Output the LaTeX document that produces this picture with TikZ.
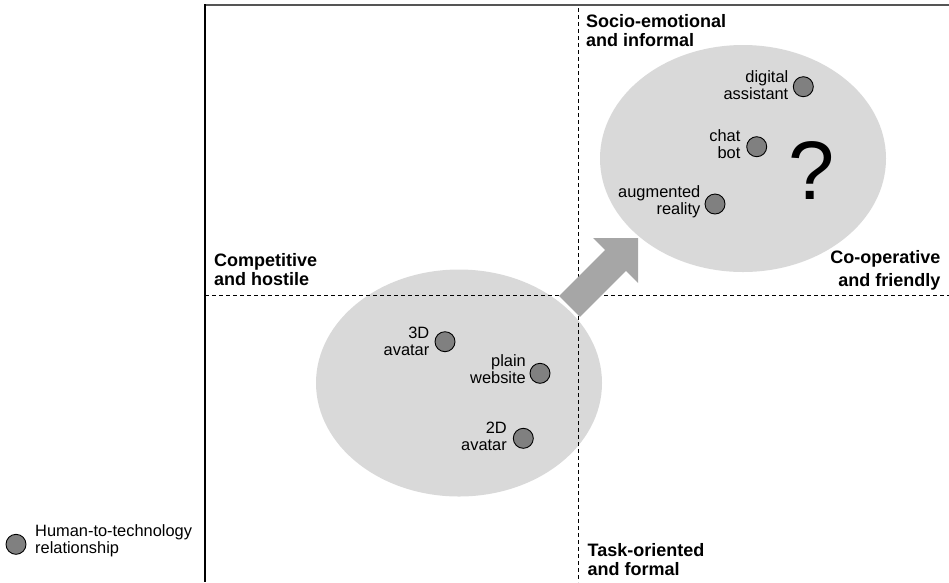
\documentclass[tikz,border=0pt]{standalone}
\usepackage{fontspec}
\setmainfont{Liberation Sans}
\usetikzlibrary{shapes.geometric}
\definecolor{cloudgray}{HTML}{D9D9D9}
\definecolor{dotgray}{HTML}{808080}
\definecolor{arrowgray}{HTML}{A6A6A6}
\definecolor{framegray}{HTML}{555555}
\tikzset{
  zone/.style={ellipse, fill=cloudgray, draw=none, minimum width=286pt, minimum height=227pt, inner sep=0pt},
  rel/.style={circle, draw=black, line width=0.9pt, fill=dotgray, minimum size=20pt, inner sep=0pt},
  lbl/.style={font=\fontsize{16.4}{17}\selectfont, align=right, inner sep=0pt, anchor=east},
  quadlbl/.style={font=\fontsize{18}{19}\selectfont\bfseries, inner sep=0pt},
  axisdash/.style={line width=0.9pt, dash pattern=on 4pt off 3pt},
}
\begin{document}
\begin{tikzpicture}[x=1pt,y=-1pt]
\useasboundingbox (0,0) rectangle (949,582);
% clouds
\node[zone] (upper) at (743,158.5) {};
\node[zone] (lower) at (459,383) {};
% frame
\coordinate (tl) at (205,4.2);
\coordinate (tr) at (949,5);
\coordinate (bl) at (205,582);
\draw[framegray, line width=1.8pt] (205,5) -- (tr);
\draw[black, line width=1.3pt] (tl) -- (bl);
% axes
\coordinate (vtop) at (578,8);
\coordinate (vbot) at (578,582);
\coordinate (hleft) at (205,295);
\coordinate (hright) at (949,295);
\draw[axisdash] (vtop) -- (vbot);
\draw[axisdash] (hleft) -- (hright);
% block arrow
\fill[arrowgray] (559.1,296.1) -- (605.1,250.1) -- (593,238) -- (638,238)
  -- (638,283) -- (625.9,270.9) -- (579.9,316.9) -- cycle;
% relationship dots
\node[rel] (da) at (803.3,86.7) {};
\node[rel] (cb) at (756.7,146.7) {};
\node[rel] (ar) at (715,204) {};
\node[rel] (av3) at (445,341.7) {};
\node[rel] (pw) at (540,373.3) {};
\node[rel] (av2) at (523.3,438.3) {};
% labels
\node[lbl] (lda) at (788.5,85.4) {digital\\assistant};
\node[lbl] (lcb) at (740.5,144.2) {chat\\bot};
\node[lbl] (lar) at (700.5,202) {augmented\\reality};
\node[lbl] (lav3) at (429.5,341.7) {3D\\avatar};
\node[lbl] (lpw) at (526,369.2) {plain\\website};
\node[lbl] (lav2) at (507,436.2) {2D\\avatar};
% question mark
\node[inner sep=0pt, font=\fontsize{83}{83}\selectfont] (q) at (812,171) {?};
% quadrant labels
\node[quadlbl, anchor=north west, align=left] (socio) at (586,14.5) {Socio-emotional\\and informal};
\node[quadlbl, anchor=north west, align=left] (comp) at (214,253.7) {Competitive\\and hostile};
\node[quadlbl, anchor=north east, align=right, font=\fontsize{18}{23.4}\selectfont\bfseries] (coop) at (940.5,250.3) {Co-operative\\and friendly};
\node[quadlbl, anchor=north west, align=left] (task) at (587.5,543) {Task-oriented\\and formal};
% legend
\node[rel] (legdot) at (16,544.3) {};
\node[font=\fontsize{16.4}{17}\selectfont, align=left, inner sep=0pt, anchor=west] (legtxt) at (35,541) {Human-to-technology\\relationship};
\end{tikzpicture}
\end{document}
